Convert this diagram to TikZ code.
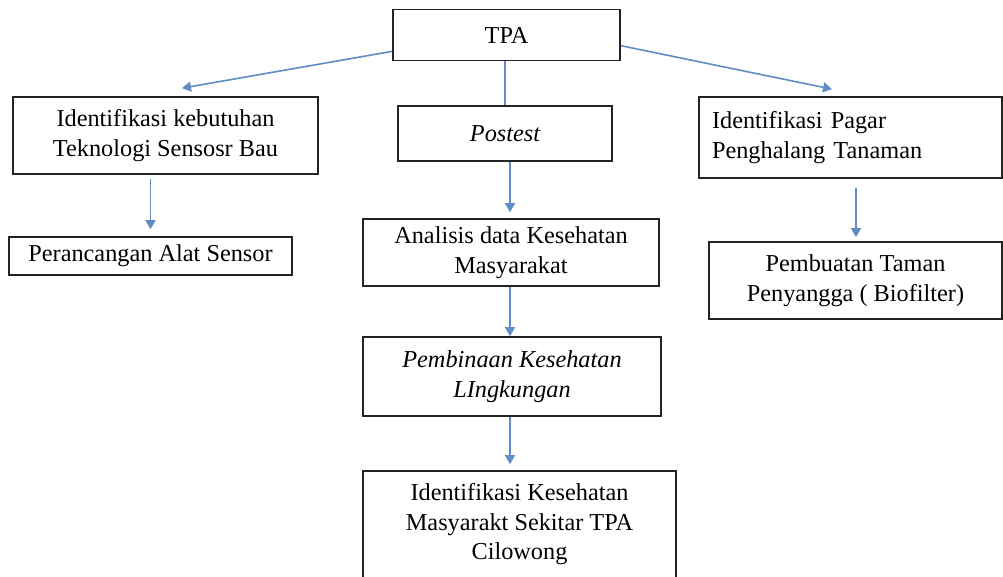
\documentclass[tikz,border=0pt]{standalone}
\usepackage{fontspec}
\setmainfont{Liberation Serif}
\usetikzlibrary{arrows.meta,calc}
\definecolor{arrblue}{RGB}{96,140,196}
\definecolor{boxline}{RGB}{35,35,35}
\tikzset{
  box/.style={draw=boxline, line width=1.7pt, fill=white, inner sep=0pt,
    font=\fontsize{24.3}{29.5}\selectfont, align=center},
  conn/.style={draw=arrblue, line width=1.6pt},
  arr/.style={conn, -{Triangle[width=10pt,length=9pt]}}
}
\begin{document}
\begin{tikzpicture}[x=1pt,y=-1pt]
\useasboundingbox (0,0) rectangle (1003,576);
% boxes
\node[box, minimum width=227pt, minimum height=51pt] (tpa) at (506.5,35) {TPA};
\node[box, minimum width=305pt, minimum height=77pt] (idk) at (165.5,135.5) {Identifikasi kebutuhan\\Teknologi Sensosr Bau};
\node[box, minimum width=283pt, minimum height=38pt] (per) at (150.5,256) {Perancangan Alat Sensor};
\node[box, minimum width=214pt, minimum height=55pt] (post) at (505,133.5) {\itshape Postest};
\node[box, minimum width=296pt, minimum height=67pt] (ana) at (511,252.5) {Analisis data Kesehatan\\Masyarakat};
\node[box, minimum width=298pt, minimum height=79pt] (pemb) at (512,376.5) {\itshape Pembinaan Kesehatan\\\itshape LIngkungan};
\node[box, minimum width=313pt, minimum height=107pt] (ikes) at (519.5,524.5) {Identifikasi Kesehatan\\Masyarakt Sekitar TPA\\Cilowong};
\node[box, minimum width=303pt, minimum height=81pt, text width=277pt, align=left] (ipag) at (850.5,137.5) {Identifikasi Pagar\\Penghalang Tanaman};
\node[box, minimum width=293pt, minimum height=77pt] (pemt) at (855.5,280.5) {Pembuatan Taman\\Penyangga ( Biofilter)};
% connectors
\draw[arr] ($(tpa.south west)+(0,-10)$) -- ($(idk.north)+(16.5,-8)$);
\draw[arr] ($(tpa.north east)+(0,37)$) -- ($(ipag.north)+(-18.5,-7)$);
\draw[conn] (tpa.south -| post.north) -- (post.north);
\draw[arr] ($(post.south)+(5,0)$) -- ($(ana.north)+(-1,-6)$);
\draw[arr] ($(idk.south -| per.north)+(0,4)$) -- ($(per.north)+(0,-7)$);
\draw[arr] ($(ana.south)+(-1,0)$) -- ($(pemb.north)+(-2,0)$);
\draw[arr] ($(pemb.south)+(-2,0)$) -- ($(ikes.north)+(-9.5,-6)$);
\draw[arr] ($(ipag.south)+(5.5,9)$) -- ($(pemt.north)+(0.5,-4)$);
\end{tikzpicture}
\end{document}
